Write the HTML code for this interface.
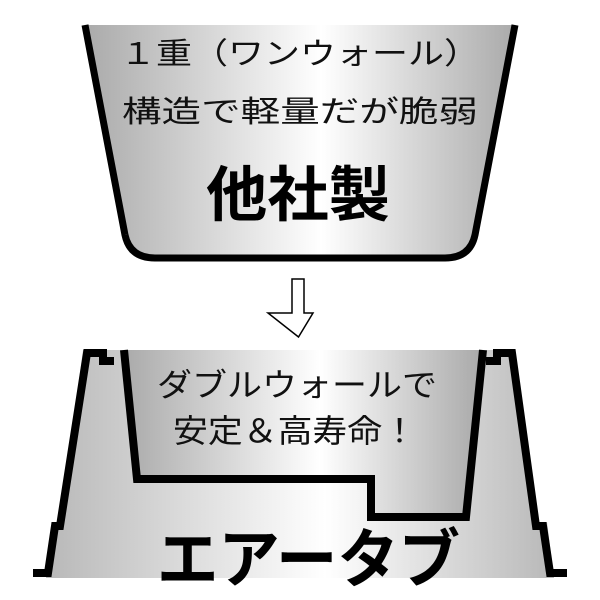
<!DOCTYPE html>
<html><head><meta charset="utf-8"><style>html,body{margin:0;padding:0;background:#fff}svg{display:block}</style></head>
<body>
<svg width="600" height="600" viewBox="0 0 600 600" xmlns="http://www.w3.org/2000/svg">
<defs>
<linearGradient id="g" x1="0" x2="1" y1="0" y2="0">
<stop offset="0" stop-color="#aaaaaa"/>
<stop offset="0.55" stop-color="#ffffff"/>
<stop offset="1" stop-color="#aaaaaa"/>
</linearGradient>
<linearGradient id="g2" x1="0" x2="1" y1="0" y2="0">
<stop offset="0" stop-color="#b8b8b8"/>
<stop offset="0.55" stop-color="#ffffff"/>
<stop offset="1" stop-color="#b8b8b8"/>
</linearGradient>
</defs>
<path d="M85,25 L125,235 Q130,258 155,258 L445,258 Q470,258 475,235 L515,25 Z" fill="url(#g)"/>
<path d="M85,25 L125,235 Q130,258 155,258 L445,258 Q470,258 475,235 L515,25" fill="none" stroke="#000" stroke-width="7"/>
<g font-family="'Liberation Sans','Noto Sans CJK JP',sans-serif" fill="#111">
<text x="120" y="64" font-size="30" textLength="360" lengthAdjust="spacingAndGlyphs">１重（ワンウォール）</text>
<text x="122" y="122" font-size="30" textLength="356" lengthAdjust="spacingAndGlyphs">構造で軽量だが脆弱</text>
<text x="206" y="216" font-size="60" font-weight="bold" fill="#000" textLength="184" lengthAdjust="spacingAndGlyphs">他社製</text>
</g>
<path d="M292,279 L304,279 L304,313 L313,313 L298.5,337 L268,313 L292,313 Z" fill="#fff" stroke="#000" stroke-width="1.5"/>
<path d="M83,350 L515,350 L538,522 L547,522 L554,578 L46,578 L52,522 L60,522 Z" fill="url(#g2)"/>
<path d="M124,350 L480,350 L466,518 L371,518 L371,479 L137,479 Z" fill="url(#g)"/>
<g fill="none" stroke="#000" stroke-width="8" stroke-linejoin="miter">
<path d="M33,573 L48,573 L55,526 L60,526 L87,353 L103,353 L103,361 L114,361"/>
<path d="M124,350 L137,479 L371,479 L371,517 L466,517 L483,350"/>
<path d="M486,361 L497,361 L497,353 L512,353 L536,526 L543,526 L550,573 L567,573"/>
</g>
<g font-family="'Liberation Sans','Noto Sans CJK JP',sans-serif" fill="#111">
<text x="157" y="396" font-size="32" textLength="280" lengthAdjust="spacingAndGlyphs">ダブルウォールで</text>
<text x="173" y="442" font-size="32" textLength="244" lengthAdjust="spacingAndGlyphs">安定＆高寿命！</text>
<text x="157" y="582" font-size="64" font-weight="bold" fill="#000" textLength="303" lengthAdjust="spacingAndGlyphs">エアータブ</text>
</g>
</svg>
</body></html>
